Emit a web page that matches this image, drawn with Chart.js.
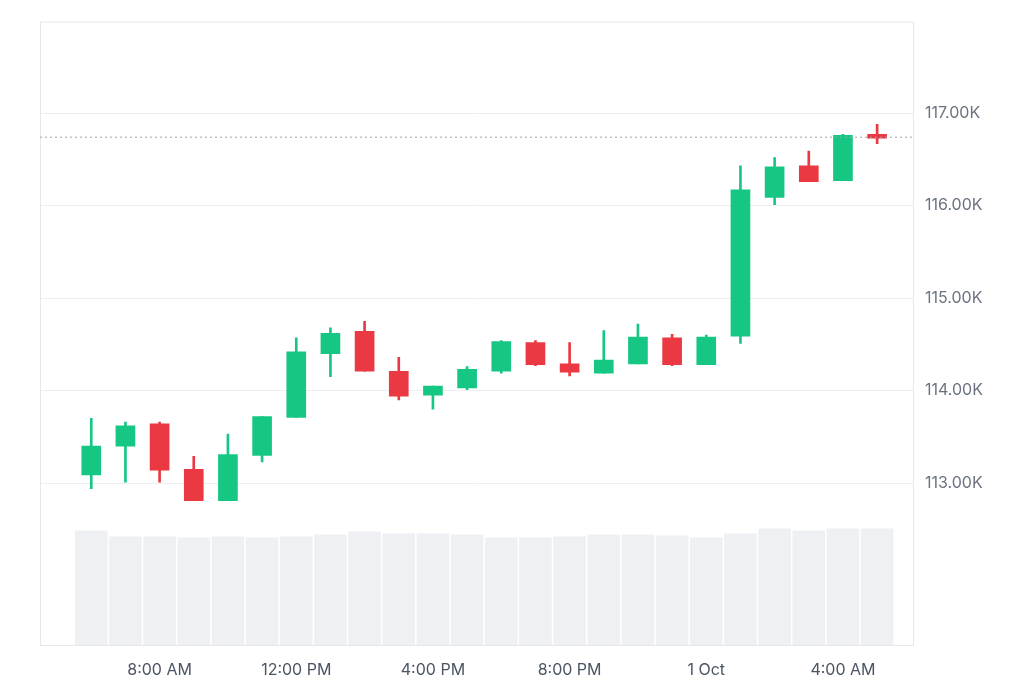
<!DOCTYPE html>
<html><head><meta charset="utf-8">
<script src="https://cdn.jsdelivr.net/npm/chart.js@4"></script>
<style>html,body{margin:0;padding:0;background:#fff}#w{width:1024px;height:683px}</style>
</head><body><div id="w"><canvas id="c"></canvas></div>
<script>
const labels=["6:00 AM","7:00 AM","8:00 AM","9:00 AM","10:00 AM","11:00 AM","12:00 PM","1:00 PM","2:00 PM","3:00 PM","4:00 PM","5:00 PM","6:00 PM","7:00 PM","8:00 PM","9:00 PM","10:00 PM","11:00 PM","1 Oct","1:00 AM","2:00 AM","3:00 AM","4:00 AM","5:00 AM"];
const shownLabels=["8:00 AM","12:00 PM","4:00 PM","8:00 PM","1 Oct","4:00 AM"];
const openV=[113.09,113.40,113.64,113.15,112.81,113.30,113.71,114.40,114.64,114.21,113.95,114.03,114.21,114.52,114.29,114.19,114.29,114.57,114.28,114.59,116.09,116.43,116.27,116.77];
const highV=[113.70,113.66,113.66,113.29,113.53,113.72,114.57,114.68,114.75,114.36,114.05,114.26,114.54,114.54,114.52,114.65,114.72,114.61,114.60,116.43,116.52,116.59,116.77,116.88];
const lowV=[112.94,113.01,113.01,112.81,112.81,113.23,113.71,114.15,114.21,113.90,113.80,114.01,114.19,114.27,114.16,114.19,114.29,114.27,114.28,114.51,116.01,116.26,116.27,116.67];
const closeV=[113.40,113.62,113.14,112.81,113.31,113.72,114.42,114.62,114.21,113.94,114.05,114.23,114.53,114.28,114.20,114.33,114.58,114.28,114.58,116.17,116.42,116.26,116.76,116.73];
const volumeV=[115,109,109,108,109,108,109,111,114,112,112,111,108,108,109,111,111,110,108,112,117,115,117,117];
const lastPrice=116.74;
const yTicks=[113,114,115,116,117];
const G='#16c784',R='#ea3943';
const cols=openV.map((o,i)=>closeV[i]>=o?G:R);
const extra={id:'extra',afterDraw(ch){const {ctx,chartArea:a,scales}=ch;ctx.save();ctx.strokeStyle='#e5e7eb';ctx.lineWidth=1;ctx.strokeRect(a.left+0.5,a.top+0.5,a.right-a.left,a.bottom-a.top);
const y=scales.y.getPixelForValue(lastPrice);ctx.strokeStyle='#9ca3af';ctx.setLineDash([2,3]);ctx.beginPath();ctx.moveTo(a.left,y);ctx.lineTo(a.right,y);ctx.stroke();ctx.restore();}};
new Chart(document.getElementById('c'),{
data:{datasets:[
{type:'bar',yAxisID:'v',data:volumeV.map((v,i)=>({x:i,y:v})),backgroundColor:'#eef0f3',barThickness:32,grouped:false,order:3},
{type:'bar',yAxisID:'y',data:lowV.map((l,i)=>({x:i,y:[l,highV[i]]})),backgroundColor:cols,barThickness:2,grouped:false,order:2},
{type:'bar',yAxisID:'y',data:openV.map((o,i)=>({x:i,y:[o,Math.abs(closeV[i]-o)<0.02?o+0.03:closeV[i]]})),backgroundColor:cols,barThickness:19,grouped:false,order:1}
]},
options:{responsive:true,maintainAspectRatio:false,animation:false,
layout:{padding:{left:40,top:12,right:0,bottom:0}},
plugins:{legend:{display:false},tooltip:{enabled:false}},
scales:{
x:{type:'linear',min:-1.5,max:24.05,offset:false,grid:{display:false},border:{display:false},
 afterFit(s){s.height=38;},
 afterBuildTicks(s){s.ticks=labels.map((l,i)=>({value:i})).filter(t=>shownLabels.includes(labels[t.value]));},
 ticks:{autoSkip:false,maxRotation:0,color:'#4b5563',font:{family:'Inter',size:16},padding:8,
 callback(v){return labels[v]||'';}}},
y:{position:'right',min:111.25,max:117.99,
 afterBuildTicks(s){s.ticks=yTicks.map(v=>({value:v}));},
 afterFit(s){s.width=111;},
 grid:{color:'#eceef1',drawTicks:false},border:{display:false},
 ticks:{padding:12,color:'#6b7280',font:{family:'Inter',size:16},callback:v=>v.toFixed(2)+'K'}},
v:{display:false,min:0,max:628}
}},
plugins:[extra]});
</script></body></html>
